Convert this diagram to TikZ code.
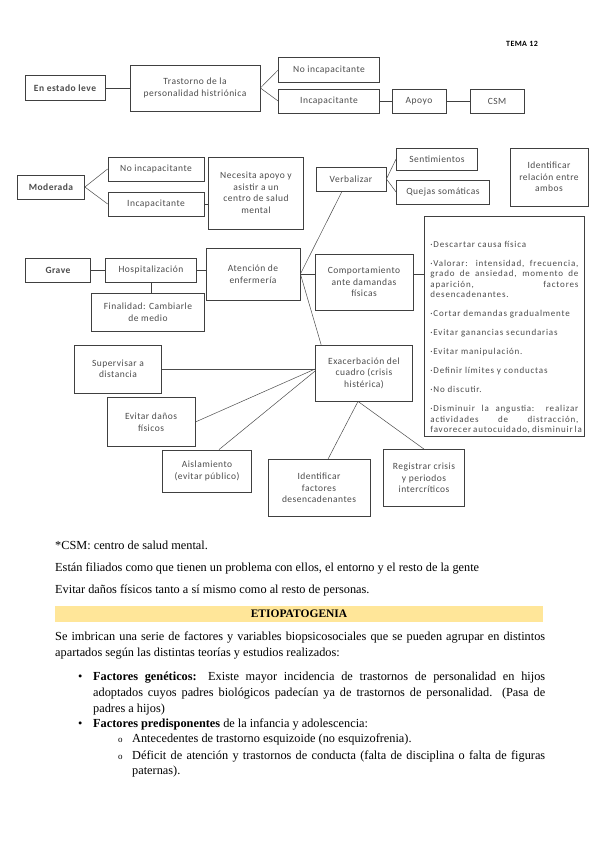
\documentclass[tikz,border=0pt]{standalone}
\usepackage{fontspec}
\setmainfont{Liberation Serif}
\newfontfamily\diagfont[LetterSpace=5]{Carlito}
\newfontfamily\listfont[LetterSpace=9]{Carlito}
\definecolor{bandyellow}{RGB}{255,230,153}
\newcommand{\jline}[2]{\makebox[#1][s]{#2}}
\newcommand{\bodysize}{\fontsize{12.3}{14}\selectfont}
\begin{document}
\begin{tikzpicture}[x=1pt, y=-1pt,
    box/.style={draw=black!75, line width=0.8pt, fill=white, align=center, inner sep=1pt,
      text=black!70, font=\diagfont\fontsize{9.5}{11.5}\selectfont},
    bold box/.style={box, font=\diagfont\bfseries\fontsize{9.5}{11.5}\selectfont},
    wh/.style 2 args={minimum width=#1, minimum height=#2},
    link/.style={draw=black!75, line width=0.8pt},
    thin link/.style={draw=black!70, line width=0.5pt},
    body/.style={anchor=base west, inner sep=0pt}]
    \fill[white] (0,0) rectangle (599,848);
    \useasboundingbox (0,0) rectangle (599,848);

    % nivel leve
    \node[anchor=base, inner sep=0pt, font=\diagfont\bfseries\fontsize{8}{9}\selectfont] (tema) at (522,47) {TEMA 12};
    \node[bold box, wh={80pt}{25pt}] (leve) at (65,88) {En estado leve};
    \node[box, wh={130pt}{46pt}] (trast) at (195,88) {Trastorno de la\\personalidad histriónica};
    \node[box, wh={101pt}{25pt}] (noinc1) at (329,70) {No incapacitante};
    \node[box, wh={101pt}{24pt}] (inc1) at (329,101) {Incapacitante};
    \node[box, wh={54pt}{24pt}] (apoyo) at (419,101) {Apoyo};
    \node[box, wh={54pt}{24pt}] (csm) at (497,101) {CSM};
    \draw[link] (leve) -- (trast);
    \draw[thin link] (trast.east) -- (noinc1.west);
    \draw[thin link] (trast.east) -- (inc1.west);
    \draw[link] (inc1) -- (apoyo);
    \draw[link] (apoyo) -- (csm);

    % nivel moderado
    \node[bold box, wh={67pt}{24pt}] (moderada) at (51,187) {Moderada};
    \node[box, wh={96pt}{24pt}] (noinc2) at (156,169) {No incapacitante};
    \node[box, wh={96pt}{24pt}] (inc2) at (156,204) {Incapacitante};
    \node[box, wh={95pt}{72pt}] (necesita) at (256,193) {Necesita apoyo y\\asistir a un\\centro de salud\\mental};
    \draw[thin link] (moderada.east) -- (noinc2.west);
    \draw[thin link] (moderada.east) -- (inc2.west);
    \draw[link] (inc2.east) -- (inc2.east -| necesita.west);

    \node[box, wh={70pt}{24pt}] (verb) at (351,179) {Verbalizar};
    \node[box, wh={81pt}{22pt}] (sent) at (437,159) {Sentimientos};
    \node[box, wh={93pt}{24pt}] (quejas) at (443,192) {Quejas somáticas};
    \node[box, wh={78pt}{58pt}] (identrel) at (549,177) {Identificar\\relación entre\\ambos};
    \draw[thin link] (verb.east) -- (sent.west);
    \draw[thin link] (verb.east) -- (quejas.west);

    % nivel grave
    \node[bold box, wh={65pt}{24pt}] (grave) at (58,270) {Grave};
    \node[box, wh={91pt}{24pt}] (hosp) at (151,270) {Hospitalización};
    \node[box, wh={113pt}{38pt}] (final) at (148,312) {Finalidad: Cambiarle\\de medio};
    \node[box, wh={94pt}{52pt}] (atenc) at (253,274) {Atención de\\enfermería};
    \node[box, wh={98pt}{56pt}] (comp) at (364,282) {Comportamiento\\ante damandas\\físicas};
    \node[box, wh={97pt}{56pt}] (exac) at (364,373) {Exacerbación del\\cuadro (crisis\\histérica)};
    \draw[link] (grave) -- (hosp);
    \draw[link] (hosp.east) -- (hosp.east -| atenc.west);
    \draw[link] (hosp.south) -- (hosp.south |- final.north);
    \draw[thin link] (atenc.east) -- ([xshift=-9pt]verb.south);
    \draw[link] (atenc.east) -- (atenc.east -| comp.west);
    \draw[thin link] (atenc.east) -- ([xshift=6pt]exac.north west);

    \node[box, anchor=north west, align=left, inner xsep=6pt, inner ysep=0pt,
      font=\listfont\fontsize{9}{10.5}\selectfont] (lista) at (424,216) {\parbox[c][220pt][t]{148pt}{%
      \setlength{\parskip}{8.5pt}\vspace*{16pt}%
      ·Descartar causa física\par
      \jline{\linewidth}{·Valorar: intensidad, frecuencia,}\\
      \jline{\linewidth}{grado de ansiedad, momento de}\\
      \jline{\linewidth}{aparición, factores}\\
      desencadenantes.\par
      ·Cortar demandas gradualmente\par
      ·Evitar ganancias secundarias\par
      ·Evitar manipulación.\par
      ·Definir límites y conductas\par
      ·No discutir.\par
      \jline{\linewidth}{·Disminuir la angustia: realizar}\\
      \jline{\linewidth}{actividades de distracción,}\\
      \jline{\linewidth}{favorecer autocuidado, disminuir la}}};
    \draw[link] ([yshift=8pt]comp.east) -- ([yshift=8pt]comp.east -| lista.west);

    % crisis
    \node[box, wh={87pt}{48pt}] (super) at (118,369) {Supervisar a\\distancia};
    \node[box, wh={88pt}{49pt}] (evitar) at (151,422) {Evitar daños\\físicos};
    \node[box, wh={89pt}{42pt}] (aisl) at (207,471) {Aislamiento\\(evitar público)};
    \node[box, wh={102pt}{57pt}] (identfac) at (319,488) {Identificar\\factores\\desencadenantes};
    \node[box, wh={81pt}{57pt}] (regis) at (424,478) {Registrar crisis\\y periodos\\intercríticos};
    \draw[thin link] (super.east) -- (super.east -| exac.west);
    \draw[thin link] (evitar.east) -- ([yshift=4pt]exac.west);
    \draw[thin link] ([xshift=12pt]aisl.north) -- ([yshift=2pt]exac.west);
    \draw[thin link] ([xshift=9pt]identfac.north) -- ([xshift=-6pt]exac.south);
    \draw[thin link] (regis.north) -- ([xshift=-6pt]exac.south);

    % texto
    \node[body] (nota) at (55,549) {\bodysize *CSM: centro de salud mental.};
    \node[body] (filiados) at (55,571) {\bodysize Están filiados como que tienen un problema con ellos, el entorno y el resto de la gente};
    \node[body] (danos) at (55,593) {\bodysize Evitar daños físicos tanto a sí mismo como al resto de personas.};
    \node[fill=bandyellow, wh={488pt}{16pt}, inner sep=0pt, font=\bfseries\fontsize{11.5}{12}\selectfont] (etio) at (299,614) {ETIOPATOGENIA};
    \node[body] (intro1) at (55,640) {\bodysize\jline{490pt}{Se imbrican una serie de factores y variables biopsicosociales que se pueden agrupar en distintos}};
    \node[body] (intro2) at (55,656) {\bodysize apartados según las distintas teorías y estudios realizados:};
    \node[body] (bul1) at (78,680) {\bodysize •};
    \node[body] (gen1) at (93,680) {\bodysize\jline{452pt}{\textbf{Factores genéticos:} Existe mayor incidencia de trastornos de personalidad en hijos}};
    \node[body] (gen2) at (93,696) {\bodysize\jline{452pt}{adoptados cuyos padres biológicos padecían ya de trastornos de personalidad. (Pasa de}};
    \node[body] (gen3) at (93,712) {\bodysize padres a hijos)};
    \node[body] (bul2) at (78,727) {\bodysize •};
    \node[body] (pred) at (93,727) {\bodysize\textbf{Factores predisponentes} de la infancia y adolescencia:};
    \node[body] (sub1) at (118,742) {\fontsize{9}{11}\selectfont o};
    \node[body] (ante) at (132,742) {\bodysize Antecedentes de trastorno esquizoide (no esquizofrenia).};
    \node[body] (sub2) at (118,759) {\fontsize{9}{11}\selectfont o};
    \node[body] (def1) at (132,759) {\bodysize\jline{413pt}{Déficit de atención y trastornos de conducta (falta de disciplina o falta de figuras}};
    \node[body] (def2) at (132,774) {\bodysize paternas).};
\end{tikzpicture}
\end{document}
